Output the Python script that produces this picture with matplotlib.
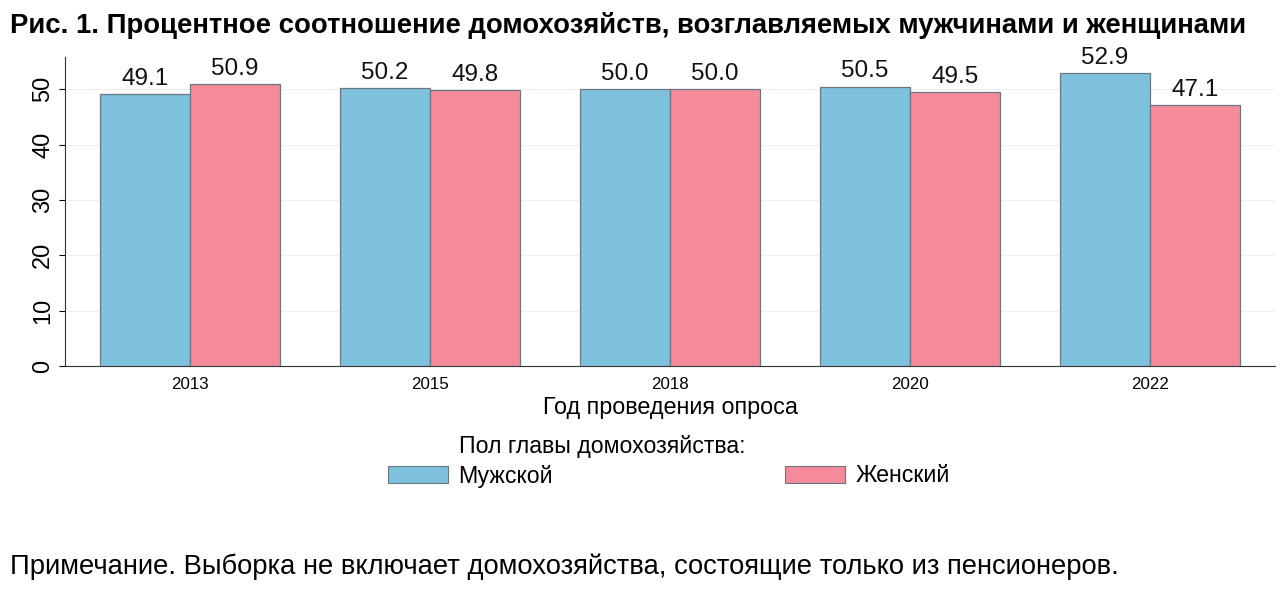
import numpy as np
import matplotlib.pyplot as plt
from matplotlib.patches import Patch

plt.rcParams['font.family'] = ['Liberation Sans', 'DejaVu Sans']

years = ['2013', '2015', '2018', '2020', '2022']
male = [49.1, 50.2, 50.0, 50.5, 52.9]
female = [50.9, 49.8, 50.0, 49.5, 47.1]

title = 'Рис. 1. Процентное соотношение домохозяйств, возглавляемых мужчинами и женщинами'
xlabel = 'Год проведения опроса'
legend_title = 'Пол главы домохозяйства:'
labels = ['Мужской', 'Женский']
note = 'Примечание. Выборка не включает домохозяйства, состоящие только из пенсионеров.'

c_male = '#7ec1dc'
c_female = '#f48a9a'
edge = '#6b7780'

fig = plt.figure(figsize=(12.8, 6.02), dpi=100)
fig.set_facecolor('white')
ax = fig.add_axes([0.051, 0.392, 0.945, 0.513])

x = np.arange(len(years))
w = 0.375
b1 = ax.bar(x - w / 2, male, w, color=c_male, edgecolor=edge, linewidth=0.9, zorder=3)
b2 = ax.bar(x + w / 2, female, w, color=c_female, edgecolor=edge, linewidth=0.9, zorder=3)

for bars, vals in ((b1, male), (b2, female)):
    for r, v in zip(bars, vals):
        ax.annotate(f'{v:.1f}', (r.get_x() + r.get_width() / 2, v),
                    xytext=(0, 3), textcoords='offset points',
                    ha='center', va='bottom', fontsize=17.5, color='#111111')

ax.set_xlim(-0.52, len(years) - 1 + 0.52)
ax.set_ylim(0, 55.8)
ax.set_yticks([0, 10, 20, 30, 40, 50])
ax.set_xticks(x)
ax.set_xticklabels(years, fontsize=12.2)
ax.tick_params(axis='x', length=0, pad=8)
ax.tick_params(axis='y', length=4, width=0.8, labelsize=17, pad=4)
for lbl in ax.get_yticklabels():
    lbl.set_rotation(90)
    lbl.set_va('center')
ax.grid(axis='y', color='#eeeeee', linewidth=0.8, zorder=0)
ax.spines['top'].set_visible(False)
ax.spines['right'].set_visible(False)
ax.spines['left'].set_color('#333333')
ax.spines['bottom'].set_color('#333333')
ax.set_xlabel(xlabel, fontsize=16.8, labelpad=3)

fig.text(0.008, 0.958, title, fontsize=19.8, fontweight='bold', va='center', ha='left')

fig.text(459 / 1280, 1 - 447 / 602, legend_title, fontsize=16.7, va='center', ha='left')
handles = [Patch(facecolor=c_male, edgecolor=edge, linewidth=0.8),
           Patch(facecolor=c_female, edgecolor=edge, linewidth=0.8)]
fig.legend(handles, labels, loc='center', bbox_to_anchor=(669 / 1280, 1 - 476 / 602),
           ncol=2, frameon=False, fontsize=16.7, handlelength=2.6, handleheight=0.8,
           handletextpad=0.45, columnspacing=10.0)

fig.text(0.008, 1 - 567 / 602, note, fontsize=19.7, va='center', ha='left')

fig.savefig('out.png', dpi=100, facecolor='white')
